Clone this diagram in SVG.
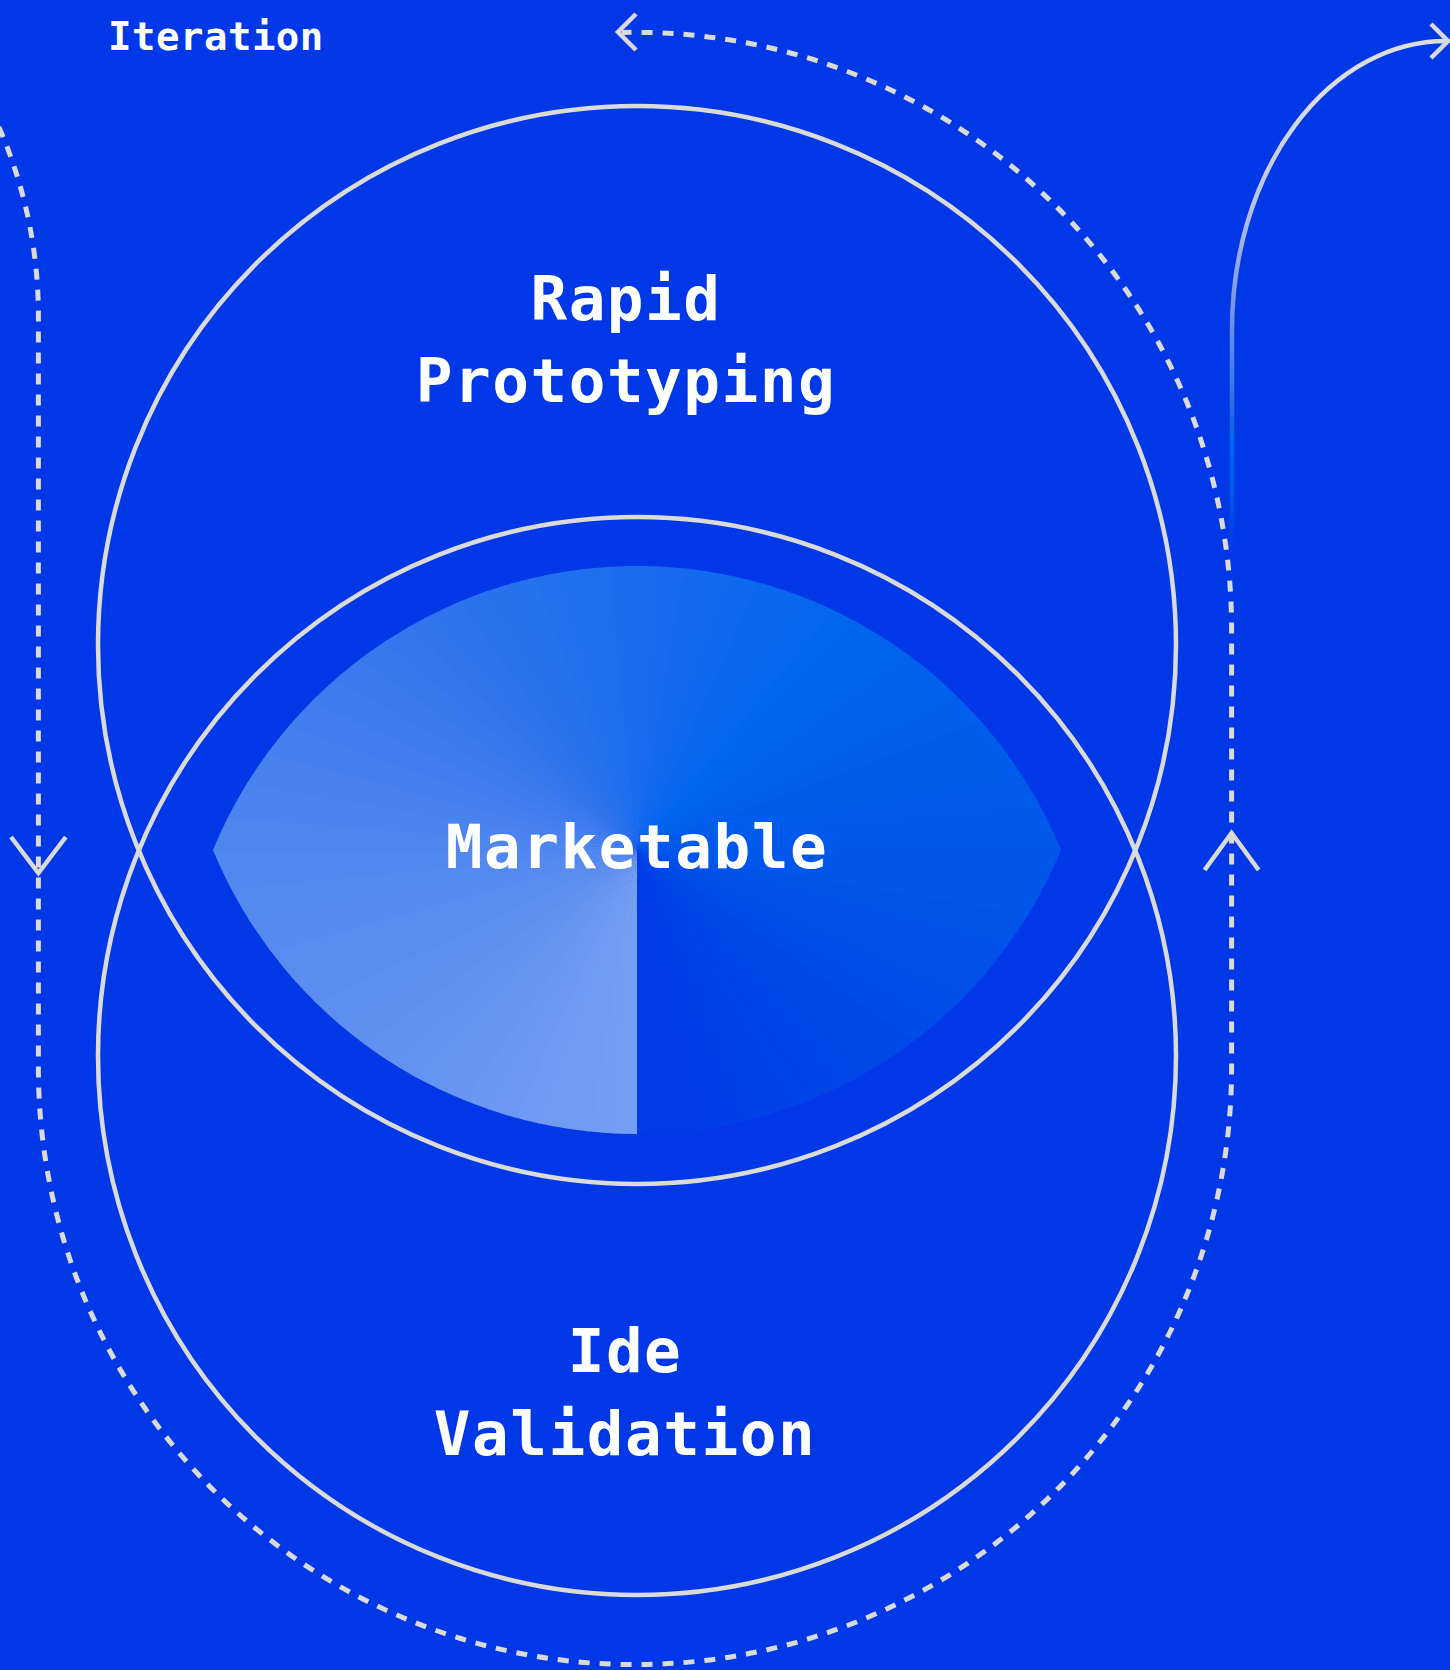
<svg xmlns="http://www.w3.org/2000/svg" xmlns:xlink="http://www.w3.org/1999/xlink" width="1450" height="1670" viewBox="0 0 1450 1670">
  <defs>
    <style>
      .ring { fill: none; stroke: #dadada; stroke-width: 4.5; }
      .label { fill: #ffffff; font-family: "DejaVu Sans Mono", "Liberation Mono", monospace; font-weight: 700; }
      .big { font-size: 61px; letter-spacing: 1.5px; text-anchor: middle; }
      .small { font-size: 39px; letter-spacing: 0.5px; }
      .dash { fill: none; stroke: #dadada; stroke-width: 5; stroke-dasharray: 11 10; }
      .arrow { fill: none; stroke: #dadada; stroke-width: 4.5; stroke-linejoin: miter; }
    </style>
    <!-- lens where the two circles overlap -->
    <clipPath id="lensClip">
      <path d="M213,850 A458.5,458.5 0 0,1 1061,850 A458.5,458.5 0 0,1 213,850 Z"/>
    </clipPath>
    <!-- 5 degree slices for the angular sweep around the lens centre -->
    <path id="slice0" d="M637,850 L637,1450 L584.7,1447.7 Z"/>
    <path id="slice" d="M637,850 L642.2,1450 L584.7,1447.7 Z"/>
    <linearGradient id="fadeLine" gradientUnits="userSpaceOnUse" x1="0" y1="545" x2="0" y2="40">
      <stop offset="0" stop-color="#0039e8"/>
      <stop offset="0.089" stop-color="#0055e9"/>
      <stop offset="0.208" stop-color="#0066ea"/>
      <stop offset="0.287" stop-color="#2d70e8"/>
      <stop offset="0.446" stop-color="#7090e6"/>
      <stop offset="0.683" stop-color="#b9c4e6"/>
      <stop offset="0.881" stop-color="#dadce2"/>
      <stop offset="1" stop-color="#dddddd"/>
    </linearGradient>
  </defs>

  <rect x="0" y="0" width="1450" height="1670" fill="#0038e8"/>

  <!-- overlap lens with angular colour sweep, starting straight down and turning clockwise -->
  <g id="lens" clip-path="url(#lensClip)">
    <use xlink:href="#slice0" href="#slice0" fill="#759ff4"/>
    <use xlink:href="#slice" href="#slice" transform="rotate(5 637 850)" fill="#739ef4"/>
    <use xlink:href="#slice" href="#slice" transform="rotate(10 637 850)" fill="#719cf3"/>
    <use xlink:href="#slice" href="#slice" transform="rotate(15 637 850)" fill="#6f9bf3"/>
    <use xlink:href="#slice" href="#slice" transform="rotate(20 637 850)" fill="#6e9af3"/>
    <use xlink:href="#slice" href="#slice" transform="rotate(25 637 850)" fill="#6c98f3"/>
    <use xlink:href="#slice" href="#slice" transform="rotate(30 637 850)" fill="#6a97f3"/>
    <use xlink:href="#slice" href="#slice" transform="rotate(35 637 850)" fill="#6895f2"/>
    <use xlink:href="#slice" href="#slice" transform="rotate(40 637 850)" fill="#6694f2"/>
    <use xlink:href="#slice" href="#slice" transform="rotate(45 637 850)" fill="#6492f2"/>
    <use xlink:href="#slice" href="#slice" transform="rotate(50 637 850)" fill="#6291f2"/>
    <use xlink:href="#slice" href="#slice" transform="rotate(55 637 850)" fill="#5f90f1"/>
    <use xlink:href="#slice" href="#slice" transform="rotate(60 637 850)" fill="#5d8ef1"/>
    <use xlink:href="#slice" href="#slice" transform="rotate(65 637 850)" fill="#5b8df1"/>
    <use xlink:href="#slice" href="#slice" transform="rotate(70 637 850)" fill="#588cf1"/>
    <use xlink:href="#slice" href="#slice" transform="rotate(75 637 850)" fill="#568af1"/>
    <use xlink:href="#slice" href="#slice" transform="rotate(80 637 850)" fill="#5489f0"/>
    <use xlink:href="#slice" href="#slice" transform="rotate(85 637 850)" fill="#5188f0"/>
    <use xlink:href="#slice" href="#slice" transform="rotate(90 637 850)" fill="#4e86f0"/>
    <use xlink:href="#slice" href="#slice" transform="rotate(95 637 850)" fill="#4b84f0"/>
    <use xlink:href="#slice" href="#slice" transform="rotate(100 637 850)" fill="#4782ef"/>
    <use xlink:href="#slice" href="#slice" transform="rotate(105 637 850)" fill="#4480ef"/>
    <use xlink:href="#slice" href="#slice" transform="rotate(110 637 850)" fill="#417eef"/>
    <use xlink:href="#slice" href="#slice" transform="rotate(115 637 850)" fill="#3d7cef"/>
    <use xlink:href="#slice" href="#slice" transform="rotate(120 637 850)" fill="#3a7aef"/>
    <use xlink:href="#slice" href="#slice" transform="rotate(125 637 850)" fill="#3678ee"/>
    <use xlink:href="#slice" href="#slice" transform="rotate(130 637 850)" fill="#3376ee"/>
    <use xlink:href="#slice" href="#slice" transform="rotate(135 637 850)" fill="#3075ee"/>
    <use xlink:href="#slice" href="#slice" transform="rotate(140 637 850)" fill="#2d74ee"/>
    <use xlink:href="#slice" href="#slice" transform="rotate(145 637 850)" fill="#2b73ee"/>
    <use xlink:href="#slice" href="#slice" transform="rotate(150 637 850)" fill="#2872ee"/>
    <use xlink:href="#slice" href="#slice" transform="rotate(155 637 850)" fill="#2671ee"/>
    <use xlink:href="#slice" href="#slice" transform="rotate(160 637 850)" fill="#2370ee"/>
    <use xlink:href="#slice" href="#slice" transform="rotate(165 637 850)" fill="#206fee"/>
    <use xlink:href="#slice" href="#slice" transform="rotate(170 637 850)" fill="#1e6eee"/>
    <use xlink:href="#slice" href="#slice" transform="rotate(175 637 850)" fill="#1b6dee"/>
    <use xlink:href="#slice" href="#slice" transform="rotate(180 637 850)" fill="#196cee"/>
    <use xlink:href="#slice" href="#slice" transform="rotate(185 637 850)" fill="#166bee"/>
    <use xlink:href="#slice" href="#slice" transform="rotate(190 637 850)" fill="#136aee"/>
    <use xlink:href="#slice" href="#slice" transform="rotate(195 637 850)" fill="#106aee"/>
    <use xlink:href="#slice" href="#slice" transform="rotate(200 637 850)" fill="#0d69ee"/>
    <use xlink:href="#slice" href="#slice" transform="rotate(205 637 850)" fill="#0a68ee"/>
    <use xlink:href="#slice" href="#slice" transform="rotate(210 637 850)" fill="#0768ee"/>
    <use xlink:href="#slice" href="#slice" transform="rotate(215 637 850)" fill="#0467ee"/>
    <use xlink:href="#slice" href="#slice" transform="rotate(220 637 850)" fill="#0166ee"/>
    <use xlink:href="#slice" href="#slice" transform="rotate(225 637 850)" fill="#0065ee"/>
    <use xlink:href="#slice" href="#slice" transform="rotate(230 637 850)" fill="#0064ed"/>
    <use xlink:href="#slice" href="#slice" transform="rotate(235 637 850)" fill="#0062ed"/>
    <use xlink:href="#slice" href="#slice" transform="rotate(240 637 850)" fill="#0061ec"/>
    <use xlink:href="#slice" href="#slice" transform="rotate(245 637 850)" fill="#005fec"/>
    <use xlink:href="#slice" href="#slice" transform="rotate(250 637 850)" fill="#005dec"/>
    <use xlink:href="#slice" href="#slice" transform="rotate(255 637 850)" fill="#005ceb"/>
    <use xlink:href="#slice" href="#slice" transform="rotate(260 637 850)" fill="#005aeb"/>
    <use xlink:href="#slice" href="#slice" transform="rotate(265 637 850)" fill="#0059ea"/>
    <use xlink:href="#slice" href="#slice" transform="rotate(270 637 850)" fill="#0057ea"/>
    <use xlink:href="#slice" href="#slice" transform="rotate(275 637 850)" fill="#0055ea"/>
    <use xlink:href="#slice" href="#slice" transform="rotate(280 637 850)" fill="#0053e9"/>
    <use xlink:href="#slice" href="#slice" transform="rotate(285 637 850)" fill="#0051e9"/>
    <use xlink:href="#slice" href="#slice" transform="rotate(290 637 850)" fill="#004fe9"/>
    <use xlink:href="#slice" href="#slice" transform="rotate(295 637 850)" fill="#004de9"/>
    <use xlink:href="#slice" href="#slice" transform="rotate(300 637 850)" fill="#004be9"/>
    <use xlink:href="#slice" href="#slice" transform="rotate(305 637 850)" fill="#0049e8"/>
    <use xlink:href="#slice" href="#slice" transform="rotate(310 637 850)" fill="#0047e8"/>
    <use xlink:href="#slice" href="#slice" transform="rotate(315 637 850)" fill="#0045e8"/>
    <use xlink:href="#slice" href="#slice" transform="rotate(320 637 850)" fill="#0044e8"/>
    <use xlink:href="#slice" href="#slice" transform="rotate(325 637 850)" fill="#0043e8"/>
    <use xlink:href="#slice" href="#slice" transform="rotate(330 637 850)" fill="#0041e8"/>
    <use xlink:href="#slice" href="#slice" transform="rotate(335 637 850)" fill="#0040e7"/>
    <use xlink:href="#slice" href="#slice" transform="rotate(340 637 850)" fill="#003fe7"/>
    <use xlink:href="#slice" href="#slice" transform="rotate(345 637 850)" fill="#003de7"/>
    <use xlink:href="#slice" href="#slice" transform="rotate(350 637 850)" fill="#003ce7"/>
    <use xlink:href="#slice" href="#slice" transform="rotate(355 637 850)" fill="#003be7"/>
  </g>

  <g id="rapid-prototyping">
    <circle class="ring" cx="637" cy="645" r="539"/>
    <text class="label big" x="626" y="320">Rapid</text>
    <text class="label big" x="626" y="402">Prototyping</text>
  </g>

  <g id="ide-validation">
    <circle class="ring" cx="637" cy="1056" r="539"/>
    <text class="label big" x="625" y="1372">Ide</text>
    <text class="label big" x="625" y="1455">Validation</text>
  </g>

  <g id="marketable">
    <text class="label big" x="637" y="868">Marketable</text>
  </g>

  <g id="iteration">
    <text class="label small" x="108" y="50">Iteration</text>
  </g>

  <g id="connectors">
    <!-- iteration loop: down the left, round the bottom, up the right, back over the top -->
    <path class="dash" d="M-10,108 A470,470 0 0,1 38.4,315 L38.4,1068 A596.6,596.6 0 0,0 1231.6,1068 L1231.6,629 A596.6,596.6 0 0,0 622,32.5"/>
    <path class="arrow" d="M11,837 L38.4,873 L65.8,837"/>
    <path class="arrow" d="M1204.6,870 L1231.6,833 L1258.6,870"/>
    <path class="arrow" d="M636,14 L618,32 L636,50"/>
    <!-- exit line leaving the loop to the top right -->
    <path fill="none" stroke="url(#fadeLine)" stroke-width="4.5" d="M1232,548 L1232,330 A214,289 0 0,1 1446,41"/>
    <path class="arrow" d="M1431,24 L1448,41 L1431,58"/>
  </g>
</svg>
